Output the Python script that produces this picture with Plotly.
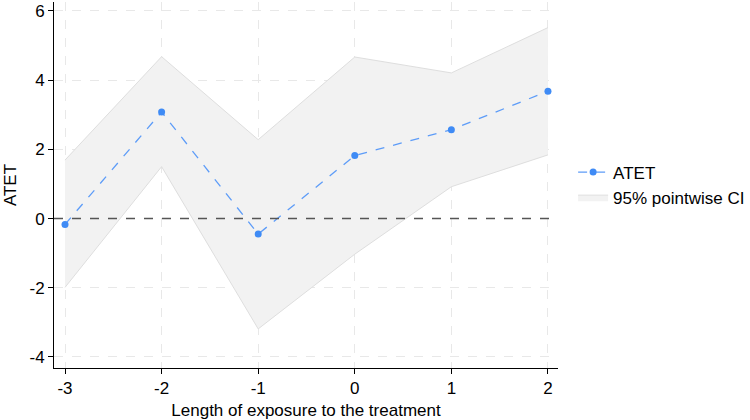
import plotly.graph_objects as go

periods = [-3, -2, -1, 0, 1, 2]
atet = [-0.17, 3.08, -0.45, 1.82, 2.57, 3.68]
ci_upper = [1.69, 4.68, 2.28, 4.67, 4.21, 5.52]
ci_lower = [-1.99, 1.50, -3.19, -1.03, 0.92, 1.84]
x_ticks = [-3, -2, -1, 0, 1, 2]
y_ticks = [-4, -2, 0, 2, 4, 6]

fig = go.Figure()
fig.add_trace(go.Scatter(x=periods, y=ci_upper, mode="lines",
                         line=dict(color="#dedede", width=1),
                         showlegend=False, hoverinfo="skip"))
fig.add_trace(go.Scatter(x=periods, y=ci_lower, mode="lines", fill="tonexty",
                         fillcolor="#f2f2f2", line=dict(color="#dedede", width=1),
                         name="95% pointwise CI"))
fig.add_shape(type="line", xref="paper", x0=0, x1=1, yref="y", y0=0, y1=0,
              line=dict(color="#555555", width=1.6, dash="dash"), layer="above")
fig.add_trace(go.Scatter(x=periods, y=atet, mode="lines+markers",
                         line=dict(color="#5d9cf8", width=1.3, dash="dash"),
                         marker=dict(color="#3f8bf5", size=7),
                         name="ATET"))

fig.update_layout(
    width=750, height=420,
    margin=dict(l=54, r=192, t=2, b=52, autoexpand=False),
    paper_bgcolor="white", plot_bgcolor="white",
    font=dict(family="Liberation Sans, Arial, sans-serif", size=17, color="black"),
    legend=dict(x=1.03, y=0.50, xanchor="left", yanchor="middle",
                font=dict(size=17), tracegroupgap=0, itemwidth=30,
                traceorder="reversed"),
    showlegend=True,
)
fig.update_xaxes(range=[-3.114, 2.104], tickvals=x_ticks, ticktext=[str(v) for v in x_ticks],
                 showgrid=True, gridcolor="#e8e8e8", griddash="dash", gridwidth=1,
                 showline=True, linecolor="black", linewidth=1, mirror=False,
                 ticks="outside", ticklen=5, tickcolor="black", zeroline=False,
                 tickfont=dict(size=17),
                 title=dict(text="Length of exposure to the treatment", font=dict(size=17), standoff=6))
fig.update_yaxes(range=[-4.32, 6.26], tickvals=y_ticks, ticktext=[str(v) for v in y_ticks],
                 showgrid=True, gridcolor="#e8e8e8", griddash="dash", gridwidth=1,
                 showline=True, linecolor="black", linewidth=1,
                 ticks="outside", ticklen=5, tickcolor="black", zeroline=False,
                 tickfont=dict(size=17),
                 title=dict(text="ATET", font=dict(size=17), standoff=8))

fig.write_html("out.html")
